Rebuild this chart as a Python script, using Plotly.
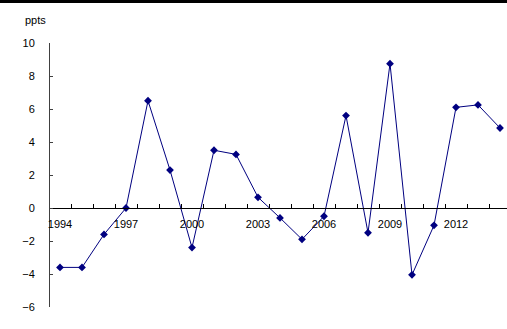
import plotly.graph_objects as go

years = list(range(1994, 2015))
values = [-3.6, -3.6, -1.6, 0.0, 6.5, 2.3, -2.4, 3.5, 3.25, 0.65, -0.6, -1.9,
          -0.5, 5.6, -1.5, 8.75, -4.05, -1.05, 6.1, 6.25, 4.85]
label_years = [1994, 1997, 2000, 2003, 2006, 2009, 2012]
y_ticks = [-6, -4, -2, 0, 2, 4, 6, 8, 10]

W, H = 507, 329
ml, mr, mt, mb = 49, 0, 43, 22
pw = W - ml - mr
ph = H - mt - mb
cat_px = 22.0
x0 = years[0] - 0.5
x1 = x0 + pw / cat_px
ymin, ymax = -6, 10
zero_pos = (0 - ymin) / (ymax - ymin)

fig = go.Figure()
fig.add_trace(go.Scatter(
    x=years, y=values, mode="lines+markers",
    line=dict(color="#000080", width=1),
    marker=dict(symbol="diamond", size=6, color="#000080"),
    showlegend=False, cliponaxis=False,
))

font = dict(family="Liberation Sans, Arial, sans-serif", size=11, color="#000000")

fig.update_layout(
    width=W, height=H,
    margin=dict(l=ml, r=mr, t=mt, b=mb, pad=0, autoexpand=False),
    paper_bgcolor="white", plot_bgcolor="white",
    font=font,
    xaxis=dict(
        range=[x0, x1], anchor="free", position=zero_pos, automargin=False,
        showline=True, linecolor="#000000", linewidth=1,
        ticks="inside", ticklen=4, tickcolor="#000000",
        tickvals=[y + 0.5 for y in years], showticklabels=False,
        showgrid=False, zeroline=False,
    ),
    xaxis2=dict(
        range=[x0, x1], overlaying="x", anchor="free", position=zero_pos,
        automargin=False, side="bottom", showline=False, ticks="",
        tickvals=label_years, ticktext=[str(y) for y in label_years],
        ticklabelstandoff=8,
        showgrid=False, zeroline=False, tickfont=font,
    ),
    yaxis=dict(
        range=[ymin, ymax], anchor="free", position=0, automargin=False,
        showline=True, linecolor="#404040", linewidth=1,
        ticks="inside", ticklen=3, tickcolor="#404040",
        tickvals=y_ticks, ticklabelstandoff=12,
        showgrid=False, zeroline=False, tickfont=font,
    ),
    annotations=[dict(
        text="ppts", xref="paper", yref="paper",
        x=-26 / pw, y=(ph + mt - 20) / ph, xanchor="left", yanchor="middle",
        showarrow=False, font=dict(family=font["family"], size=11, color="#000000"),
    )],
    shapes=[dict(
        type="line", xref="paper", yref="paper",
        x0=-ml / pw, x1=1.0, y0=(ph + mt - 1.5) / ph, y1=(ph + mt - 1.5) / ph,
        line=dict(color="#000000", width=3),
    )],
)
fig.add_trace(go.Scatter(x=[years[0]], y=[None], xaxis="x2", showlegend=False, hoverinfo="skip"))

fig.write_html(
    "out.html",
    config={"displayModeBar": False},
    post_script="document.body.style.margin='0';document.body.style.padding='0';",
)
